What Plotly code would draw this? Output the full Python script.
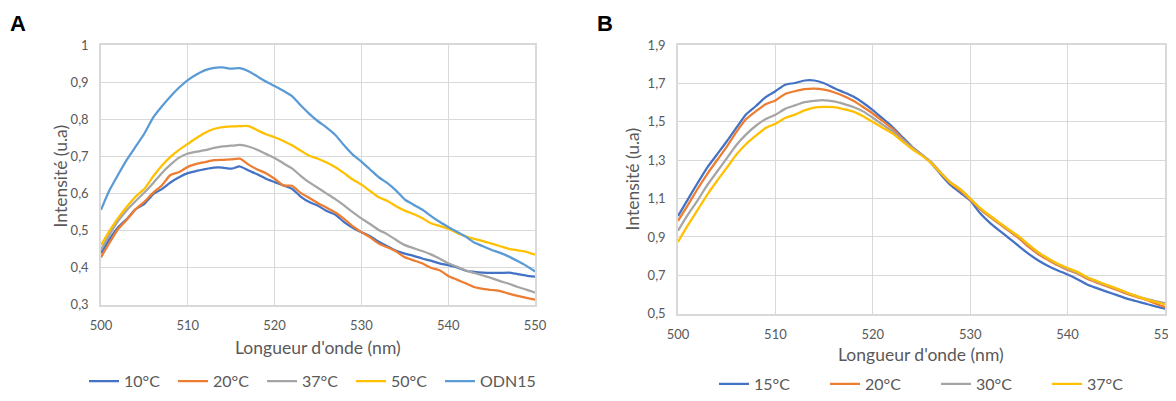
import plotly.graph_objects as go

# wavelength axis (nm)
wavelengths = list(range(500, 551))

# Panel A: intensity vs wavelength
a_10 = [0.439, 0.478, 0.510, 0.532, 0.558, 0.572, 0.598, 0.612, 0.630, 0.644,
        0.655, 0.661, 0.666, 0.670, 0.670, 0.667, 0.673, 0.662, 0.652, 0.640,
        0.631, 0.622, 0.613, 0.592, 0.577, 0.567, 0.553, 0.543, 0.523, 0.508,
        0.496, 0.485, 0.470, 0.458, 0.446, 0.438, 0.432, 0.425, 0.419, 0.412,
        0.407, 0.401, 0.392, 0.389, 0.387, 0.386, 0.386, 0.387, 0.383, 0.379,
        0.376]
a_20 = [0.428, 0.468, 0.505, 0.530, 0.558, 0.578, 0.602, 0.622, 0.650, 0.658,
        0.672, 0.680, 0.685, 0.690, 0.691, 0.692, 0.694, 0.678, 0.665, 0.655,
        0.640, 0.622, 0.621, 0.602, 0.588, 0.574, 0.562, 0.549, 0.532, 0.512,
        0.496, 0.482, 0.465, 0.455, 0.444, 0.428, 0.420, 0.412, 0.400, 0.393,
        0.378, 0.368, 0.358, 0.348, 0.343, 0.340, 0.337, 0.330, 0.324, 0.319,
        0.314]
a_37 = [0.448, 0.490, 0.527, 0.556, 0.580, 0.603, 0.628, 0.655, 0.678, 0.697,
        0.708, 0.713, 0.717, 0.723, 0.727, 0.729, 0.731, 0.727, 0.718, 0.707,
        0.696, 0.682, 0.668, 0.648, 0.630, 0.615, 0.600, 0.585, 0.568, 0.550,
        0.533, 0.518, 0.502, 0.490, 0.475, 0.461, 0.453, 0.445, 0.436, 0.425,
        0.412, 0.403, 0.393, 0.386, 0.379, 0.372, 0.364, 0.357, 0.348, 0.341,
        0.333]
a_50 = [0.461, 0.500, 0.535, 0.565, 0.592, 0.613, 0.646, 0.675, 0.699, 0.718,
        0.734, 0.750, 0.764, 0.774, 0.779, 0.781, 0.782, 0.782, 0.771, 0.760,
        0.752, 0.742, 0.730, 0.716, 0.702, 0.694, 0.684, 0.671, 0.655, 0.638,
        0.624, 0.607, 0.590, 0.580, 0.566, 0.554, 0.545, 0.534, 0.520, 0.513,
        0.505, 0.494, 0.485, 0.478, 0.472, 0.465, 0.458, 0.451, 0.447, 0.443,
        0.435]
a_odn15 = [0.556, 0.610, 0.652, 0.692, 0.727, 0.762, 0.805, 0.835, 0.862, 0.886,
           0.906, 0.921, 0.933, 0.939, 0.940, 0.937, 0.938, 0.930, 0.916, 0.902,
           0.890, 0.877, 0.863, 0.838, 0.815, 0.795, 0.778, 0.758, 0.730, 0.705,
           0.686, 0.665, 0.644, 0.628, 0.608, 0.584, 0.570, 0.557, 0.540, 0.524,
           0.510, 0.497, 0.484, 0.468, 0.458, 0.448, 0.440, 0.430, 0.418, 0.405,
           0.390]

# Panel B
b_15 = [1.009, 1.095, 1.180, 1.262, 1.330, 1.398, 1.470, 1.540, 1.583, 1.629,
        1.660, 1.694, 1.703, 1.716, 1.716, 1.702, 1.677, 1.655, 1.632, 1.600,
        1.561, 1.518, 1.475, 1.423, 1.372, 1.330, 1.285, 1.225, 1.170, 1.130,
        1.090, 1.025, 0.975, 0.933, 0.893, 0.852, 0.812, 0.777, 0.748, 0.725,
        0.704, 0.680, 0.652, 0.633, 0.615, 0.598, 0.580, 0.566, 0.552, 0.538,
        0.526]
b_20 = [0.984, 1.065, 1.150, 1.228, 1.300, 1.370, 1.448, 1.515, 1.556, 1.592,
        1.612, 1.646, 1.660, 1.671, 1.674, 1.668, 1.655, 1.635, 1.610, 1.578,
        1.544, 1.505, 1.465, 1.415, 1.368, 1.330, 1.288, 1.232, 1.180, 1.140,
        1.095, 1.045, 1.005, 0.968, 0.930, 0.893, 0.848, 0.810, 0.780, 0.752,
        0.728, 0.710, 0.682, 0.662, 0.643, 0.625, 0.605, 0.588, 0.573, 0.553,
        0.534]
b_30 = [0.933, 1.015, 1.090, 1.170, 1.240, 1.310, 1.380, 1.435, 1.480, 1.515,
        1.537, 1.568, 1.586, 1.603, 1.610, 1.613, 1.607, 1.594, 1.578, 1.555,
        1.522, 1.486, 1.452, 1.410, 1.366, 1.330, 1.290, 1.235, 1.185, 1.148,
        1.100, 1.050, 1.010, 0.972, 0.935, 0.900, 0.858, 0.818, 0.786, 0.758,
        0.732, 0.712, 0.688, 0.667, 0.648, 0.630, 0.610, 0.593, 0.578, 0.566,
        0.555]
b_37 = [0.874, 0.960, 1.040, 1.120, 1.192, 1.260, 1.330, 1.385, 1.428, 1.468,
        1.490, 1.520, 1.538, 1.560, 1.575, 1.578, 1.577, 1.567, 1.554, 1.530,
        1.500, 1.470, 1.440, 1.400, 1.360, 1.325, 1.285, 1.232, 1.182, 1.148,
        1.100, 1.052, 1.012, 0.975, 0.938, 0.903, 0.860, 0.820, 0.788, 0.760,
        0.738, 0.718, 0.690, 0.670, 0.650, 0.632, 0.612, 0.593, 0.576, 0.562,
        0.548]

series_a = [("10°C", a_10, "#4472C4"), ("20°C", a_20, "#ED7D31"),
            ("37°C", a_37, "#A5A5A5"), ("50°C", a_50, "#FFC000"),
            ("ODN15", a_odn15, "#5B9BD5")]
series_b = [("15°C", b_15, "#4472C4"), ("20°C", b_20, "#ED7D31"),
            ("30°C", b_30, "#A5A5A5"), ("37°C", b_37, "#FFC000")]

FONT = "Lato, Open Sans, sans-serif"
TICK = dict(family=FONT, size=13, color="#595959")
GRID = "#D9D9D9"
OFF = 8                      # page body margin
W, H = 1176, 401 - OFF


def px(x):
    # screen pixel -> paper x
    return (x - OFF) / W


def py(y):
    # screen pixel -> paper y
    return (H - (y - OFF)) / H


fig = go.Figure()
for name, ys, col in series_a:
    fig.add_trace(go.Scatter(x=wavelengths, y=ys, name=name, mode="lines",
                             line=dict(color=col, width=2.25, shape="spline", smoothing=0.6),
                             xaxis="x", yaxis="y", legend="legend"))
# empty legend slot so the wide "ODN15" label is not clipped
fig.add_trace(go.Scatter(x=[None], y=[None], name=" ", mode="lines",
                         line=dict(color="rgba(0,0,0,0)", width=0), hoverinfo="skip",
                         xaxis="x", yaxis="y", legend="legend"))
for name, ys, col in series_b:
    fig.add_trace(go.Scatter(x=wavelengths, y=ys, name=name, mode="lines",
                             line=dict(color=col, width=2.25, shape="spline", smoothing=0.6),
                             xaxis="x2", yaxis="y2", legend="legend2"))

axis_common = dict(showgrid=True, gridcolor=GRID, gridwidth=1, showline=True,
                   linecolor=GRID, linewidth=1.5, mirror=True, zeroline=False,
                   tickfont=TICK, ticks="", ticklabelstandoff=8, automargin=False,
                   ticklabeloverflow="allow")

fig.update_layout(
    width=W, height=H,
    margin=dict(l=0, r=0, t=0, b=0),
    paper_bgcolor="white", plot_bgcolor="white",
    separators=", ",
    xaxis=dict(domain=[px(101), px(535)], range=[500, 550], tick0=500, dtick=10, anchor="y", **axis_common),
    yaxis=dict(domain=[py(311), py(46)], range=[0.3, 1.0], tick0=0.3, dtick=0.1, anchor="x", **axis_common),
    xaxis2=dict(domain=[px(678), px(1165)], range=[500, 550], tick0=500, dtick=10, anchor="y2", **axis_common),
    yaxis2=dict(domain=[py(320), py(46)], range=[0.5, 1.9], tick0=0.5, dtick=0.2, anchor="x2", **axis_common),
    legend=dict(orientation="h", x=px(84), xanchor="left", y=py(389), yanchor="middle",
                font=dict(family=FONT, size=16, color="#595959"),
                entrywidth=44, entrywidthmode="pixels"),
    legend2=dict(orientation="h", x=px(714), xanchor="left", y=py(392), yanchor="middle",
                 font=dict(family=FONT, size=16, color="#595959"),
                 entrywidth=66, entrywidthmode="pixels"),
)

title_font = dict(family=FONT, size=17.5, color="#595959")
annotations = [
    dict(text="<b>A</b>", x=px(18), y=py(24), font=dict(family="Arial", size=22, color="black")),
    dict(text="<b>B</b>", x=px(605), y=py(24), font=dict(family="Arial", size=22, color="black")),
    dict(text="Longueur d'onde (nm)", x=px(318), y=py(355), font=title_font),
    dict(text="Longueur d'onde (nm)", x=px(921), y=py(362), font=title_font),
    dict(text="Intensité (u.a)", x=px(60), y=py(180), textangle=-90, font=title_font),
    dict(text="Intensité (u.a)", x=px(632), y=py(183), textangle=-90, font=title_font),
]
for a in annotations:
    a.update(xref="paper", yref="paper", showarrow=False, xanchor="center", yanchor="middle")
fig.update_layout(annotations=annotations)

fig.write_html("out.html")
